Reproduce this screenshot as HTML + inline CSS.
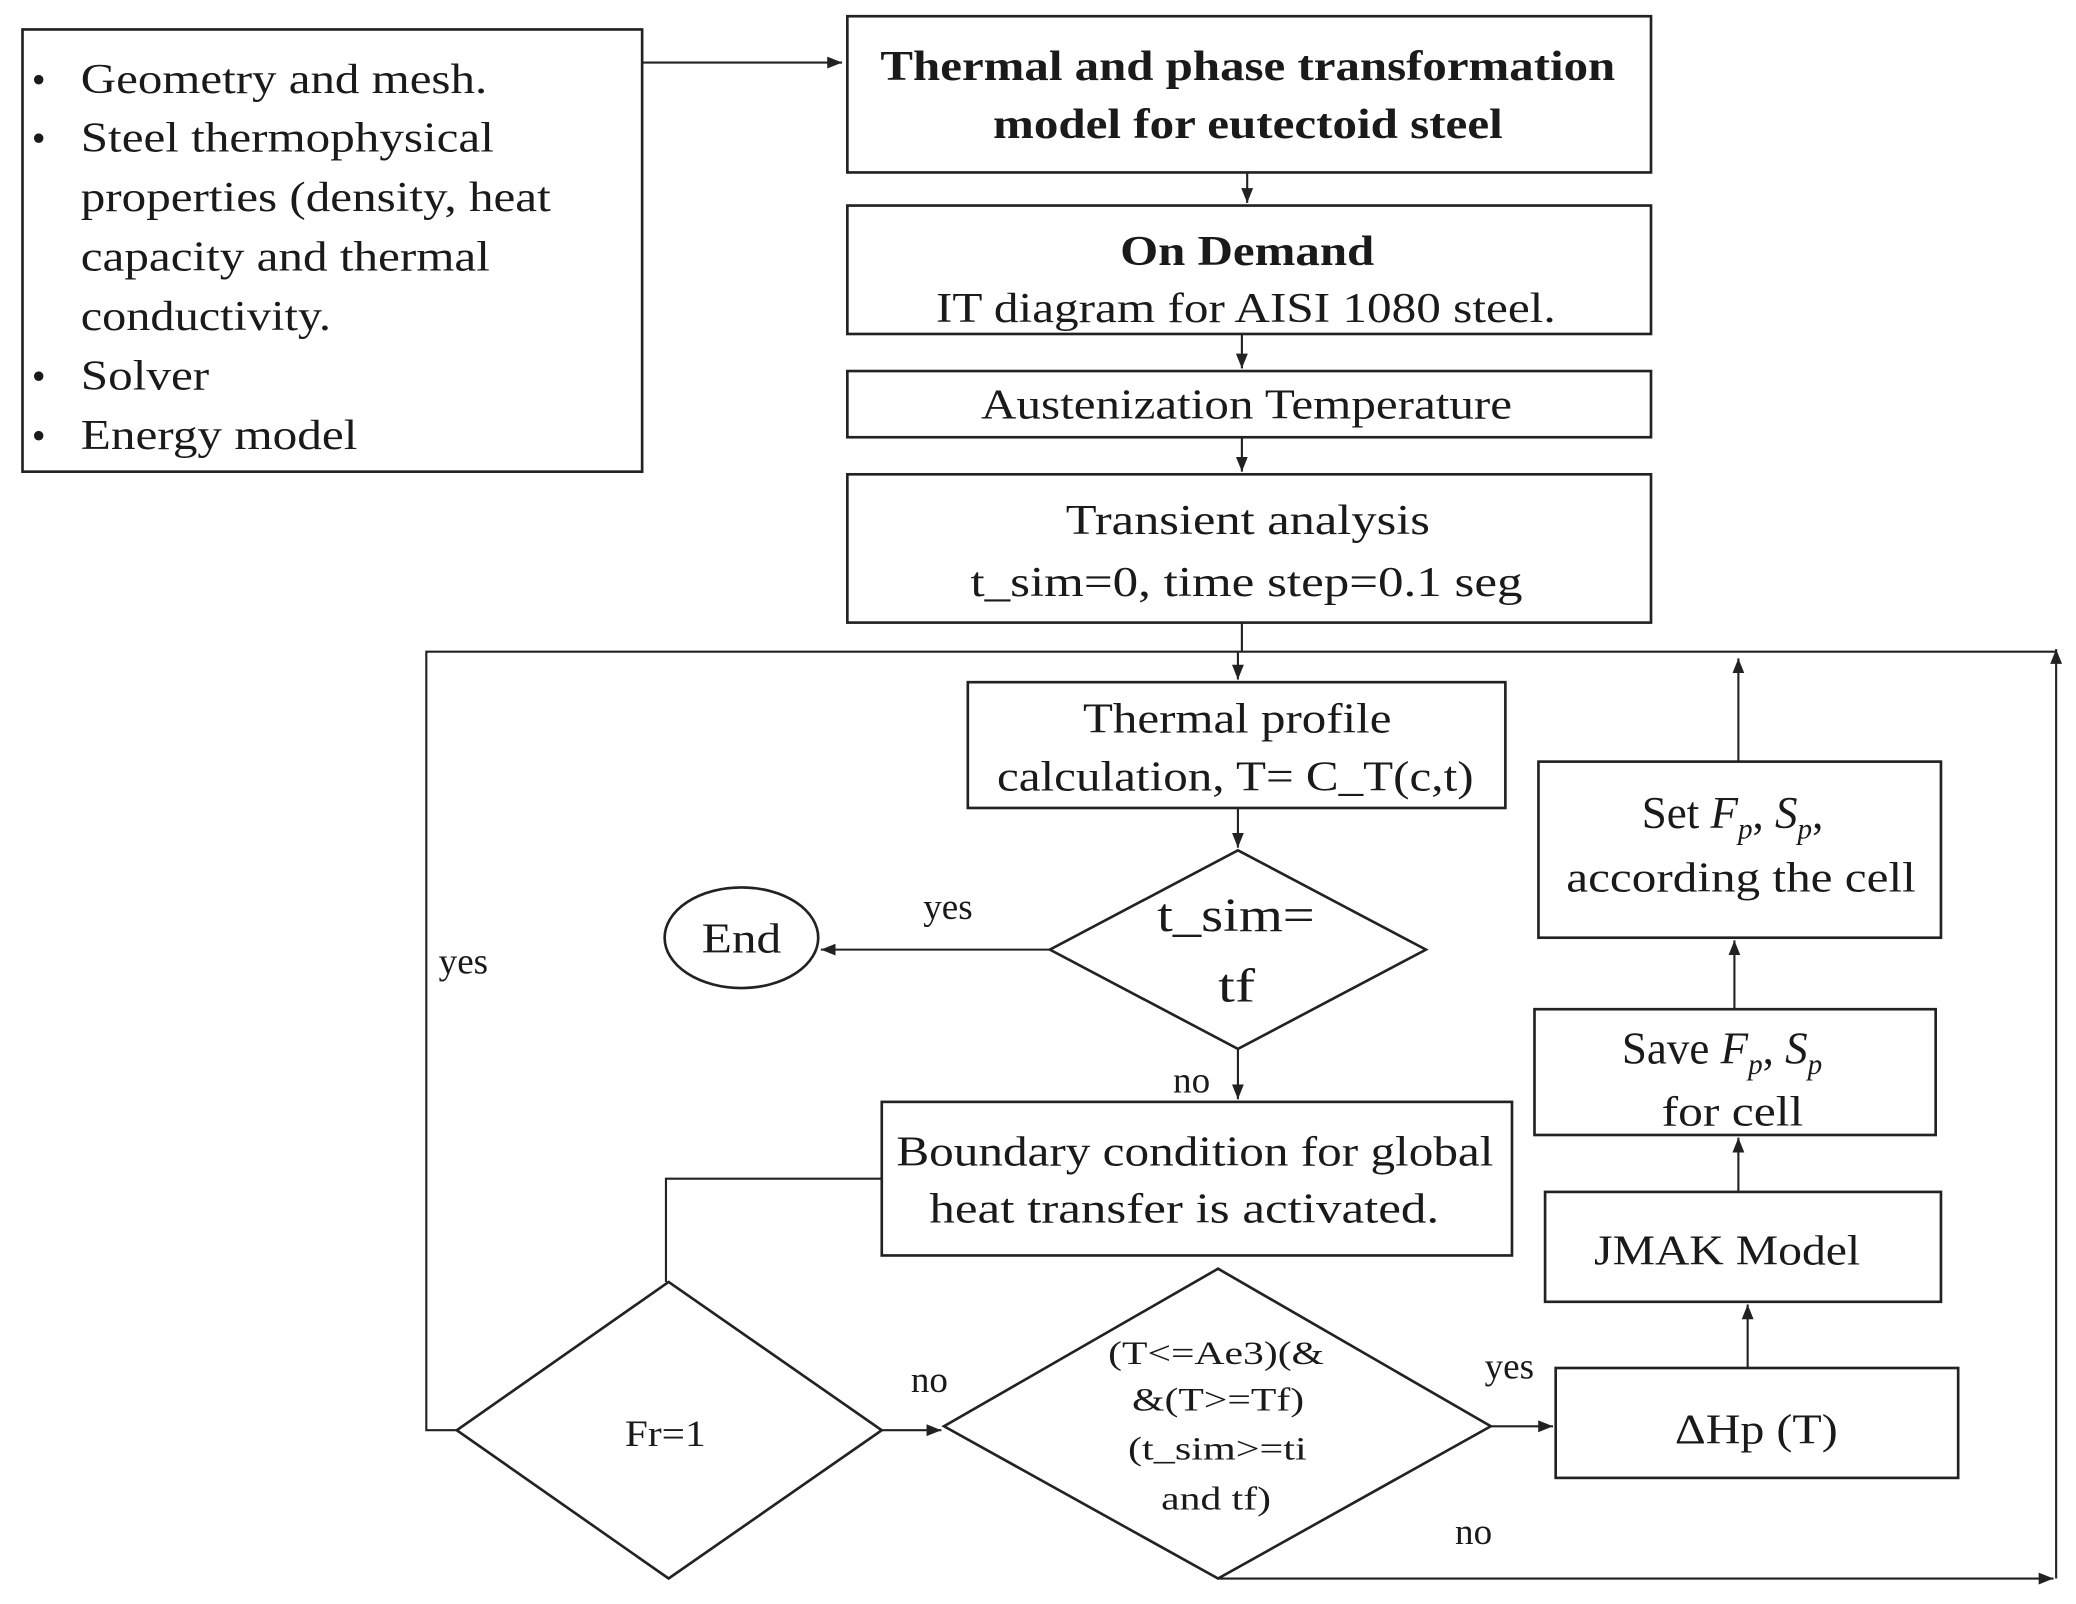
<!DOCTYPE html>
<html><head><meta charset="utf-8"><style>
html,body{margin:0;padding:0;background:#fff;}
svg{display:block;}
text{font-family:"Liberation Serif",serif;fill:#1a1a1a;}
</style></head><body>
<svg width="2076" height="1604" viewBox="0 0 1568 1211" xmlns="http://www.w3.org/2000/svg">
<defs>
<marker id="a" viewBox="0 0 10 10" refX="10" refY="5" markerWidth="7" markerHeight="7" orient="auto-start-reverse"><path d="M0,1 L10,5 L0,9 z" fill="#222"/></marker>
</defs>
<g fill="none" stroke="#222" stroke-width="2">
<rect x="17" y="22" width="468" height="334"/>
<rect x="640" y="12" width="607" height="118"/>
<rect x="640" y="155" width="607" height="97"/>
<rect x="640" y="280" width="607" height="50"/>
<rect x="640" y="358" width="607" height="112"/>
<rect x="731" y="515" width="406" height="95"/>
<ellipse cx="560" cy="708" rx="58" ry="38"/>
<polygon points="935,642 1077,717 935,792 793,717"/>
<rect x="666" y="832" width="476" height="116"/>
<polygon points="505,968 666,1080 505,1192 345,1080"/>
<polygon points="920,958 1126,1077 920,1192 713,1077"/>
<rect x="1175" y="1033" width="304" height="83"/>
<rect x="1167" y="900" width="299" height="83"/>
<rect x="1159" y="762" width="303" height="95"/>
<rect x="1162" y="575" width="304" height="133"/>
</g>
<g fill="none" stroke="#222" stroke-width="1.6">
<line x1="485" y1="47" x2="636" y2="47" marker-end="url(#a)"/>
<line x1="942" y1="130" x2="942" y2="153" marker-end="url(#a)"/>
<line x1="938" y1="252" x2="938" y2="278" marker-end="url(#a)"/>
<line x1="938" y1="330" x2="938" y2="356" marker-end="url(#a)"/>
<line x1="938" y1="470" x2="938" y2="492"/>
<polyline points="345,1080 322,1080 322,492 1553,492"/>
<line x1="1553" y1="1192" x2="1553" y2="490" marker-end="url(#a)"/>
<line x1="920" y1="1192" x2="1551" y2="1192" marker-end="url(#a)"/>
<line x1="935" y1="492" x2="935" y2="513" marker-end="url(#a)"/>
<line x1="935" y1="610" x2="935" y2="640" marker-end="url(#a)"/>
<line x1="793" y1="717" x2="620" y2="717" marker-end="url(#a)"/>
<line x1="935" y1="792" x2="935" y2="830" marker-end="url(#a)"/>
<polyline points="666,890 503,890 503,968"/>
<line x1="666" y1="1080" x2="711" y2="1080" marker-end="url(#a)"/>
<line x1="1126" y1="1077" x2="1173" y2="1077" marker-end="url(#a)"/>
<line x1="1320" y1="1033" x2="1320" y2="985" marker-end="url(#a)"/>
<line x1="1313" y1="900" x2="1313" y2="859" marker-end="url(#a)"/>
<line x1="1310" y1="762" x2="1310" y2="710" marker-end="url(#a)"/>
<line x1="1313" y1="575" x2="1313" y2="497" marker-end="url(#a)"/>
</g>
<g font-size="32" lengthAdjust="spacingAndGlyphs">
<text x="24" y="70" font-size="30">•</text><text x="61" y="70" textLength="307" lengthAdjust="spacingAndGlyphs">Geometry and mesh.</text>
<text x="24" y="114" font-size="30">•</text><text x="61" y="114" textLength="312" lengthAdjust="spacingAndGlyphs">Steel thermophysical</text>
<text x="61" y="159" textLength="355" lengthAdjust="spacingAndGlyphs">properties (density, heat</text>
<text x="61" y="204" textLength="309" lengthAdjust="spacingAndGlyphs">capacity and thermal</text>
<text x="61" y="249" textLength="189" lengthAdjust="spacingAndGlyphs">conductivity.</text>
<text x="24" y="294" font-size="30">•</text><text x="61" y="294" textLength="97" lengthAdjust="spacingAndGlyphs">Solver</text>
<text x="24" y="339" font-size="30">•</text><text x="61" y="339" textLength="209" lengthAdjust="spacingAndGlyphs">Energy model</text>
</g>
<g font-size="32">
<text x="665" y="60" font-weight="bold" textLength="555" lengthAdjust="spacingAndGlyphs">Thermal and phase transformation</text>
<text x="750" y="104" font-weight="bold" textLength="385" lengthAdjust="spacingAndGlyphs">model for eutectoid steel</text>
<text x="846" y="200" font-weight="bold" textLength="192" lengthAdjust="spacingAndGlyphs">On Demand</text>
<text x="707" y="243" textLength="468" lengthAdjust="spacingAndGlyphs">IT diagram for AISI 1080 steel.</text>
<text x="741" y="316" textLength="401" lengthAdjust="spacingAndGlyphs">Austenization Temperature</text>
<text x="805" y="403" textLength="275" lengthAdjust="spacingAndGlyphs">Transient analysis</text>
<text x="733" y="450" textLength="417" lengthAdjust="spacingAndGlyphs">t_sim=0, time step=0.1 seg</text>
<text x="818" y="553" textLength="233" lengthAdjust="spacingAndGlyphs">Thermal profile</text>
<text x="753" y="597" textLength="360" lengthAdjust="spacingAndGlyphs">calculation, T= C_T(c,t)</text>
<text x="874" y="703" font-size="36" textLength="119" lengthAdjust="spacingAndGlyphs">t_sim=</text>
<text x="920" y="756" font-size="36" textLength="28" lengthAdjust="spacingAndGlyphs">tf</text>
<text x="530" y="719" textLength="60" lengthAdjust="spacingAndGlyphs">End</text>
<text x="677" y="880" textLength="451" lengthAdjust="spacingAndGlyphs">Boundary condition for global</text>
<text x="702" y="923" textLength="385" lengthAdjust="spacingAndGlyphs">heat transfer is activated.</text>
<text x="472" y="1092" font-size="28" textLength="61" lengthAdjust="spacingAndGlyphs">Fr=1</text>
<text x="1265" y="1090" textLength="123" lengthAdjust="spacingAndGlyphs">ΔHp (T)</text>
<text x="1204" y="955" textLength="201" lengthAdjust="spacingAndGlyphs">JMAK Model</text>
<text x="1225" y="803" font-size="34">Save <tspan font-style="italic">F<tspan font-size="22" dy="8">p</tspan></tspan><tspan dy="-8">, </tspan><tspan font-style="italic">S<tspan font-size="22" dy="8">p</tspan></tspan></text>
<text x="1255" y="850" textLength="107" lengthAdjust="spacingAndGlyphs">for cell</text>
<text x="1240" y="625" font-size="34">Set <tspan font-style="italic">F<tspan font-size="22" dy="8">p</tspan></tspan><tspan dy="-8">, </tspan><tspan font-style="italic">S<tspan font-size="22" dy="8">p</tspan></tspan><tspan dy="-8">,</tspan></text>
<text x="1183" y="673" textLength="264" lengthAdjust="spacingAndGlyphs">according the cell</text>
</g>
<g font-size="25">
<text x="837" y="1030" textLength="163" lengthAdjust="spacingAndGlyphs">(T&lt;=Ae3)(&amp;</text>
<text x="855" y="1065" textLength="130" lengthAdjust="spacingAndGlyphs">&amp;(T&gt;=Tf)</text>
<text x="852" y="1102" textLength="135" lengthAdjust="spacingAndGlyphs">(t_sim&gt;=ti</text>
<text x="877" y="1140" textLength="83" lengthAdjust="spacingAndGlyphs">and tf)</text>
</g>
<g font-size="28" text-anchor="middle">
<text x="716" y="694">yes</text>
<text x="900" y="825">no</text>
<text x="350" y="735">yes</text>
<text x="702" y="1051">no</text>
<text x="1140" y="1041">yes</text>
<text x="1113" y="1166">no</text>
</g>
</svg>
</body></html>
